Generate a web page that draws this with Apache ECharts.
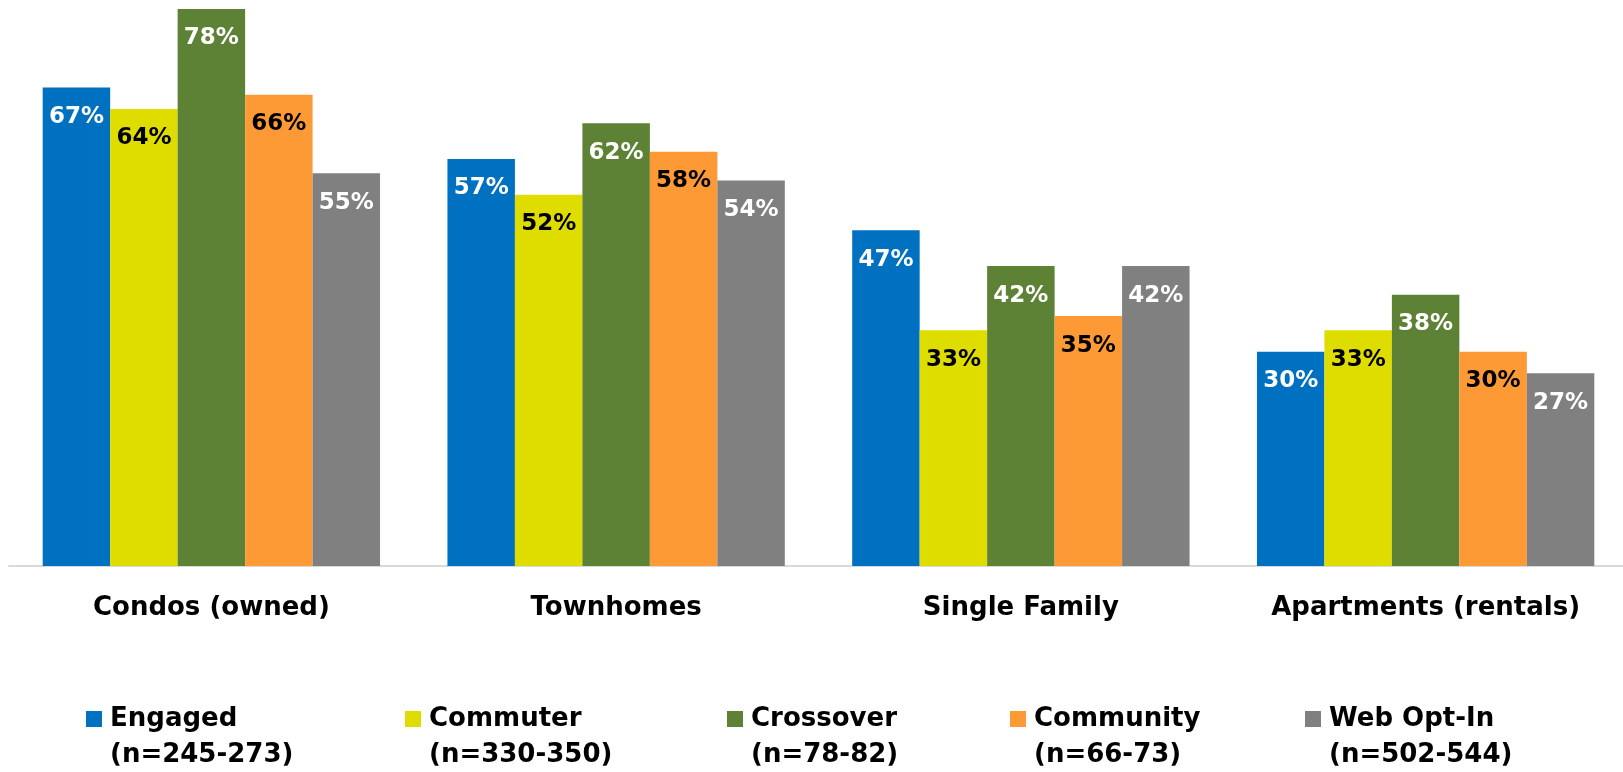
<!DOCTYPE html>
<html>
<head>
<meta charset="utf-8">
<script src="https://cdn.jsdelivr.net/npm/echarts@6/dist/echarts.min.js"></script>
<style>
  html, body { margin: 0; padding: 0; background: #ffffff; }
  #chart { width: 1623px; height: 772px; }
</style>
</head>
<body>
<div id="chart"></div>
<script>
// Housing types and the share of each segment that would consider them
const categories = ['Condos (owned)', 'Townhomes', 'Single Family', 'Apartments (rentals)'];

const segmentNames = ['Engaged', 'Commuter', 'Crossover', 'Community', 'Web Opt-In'];
const segmentSizes = ['(n=245-273)', '(n=330-350)', '(n=78-82)', '(n=66-73)', '(n=502-544)'];

const engaged   = [67, 57, 47, 30];
const commuter  = [64, 52, 33, 33];
const crossover = [78, 62, 42, 38];
const community = [66, 58, 35, 30];
const webOptIn  = [55, 54, 42, 27];

const seriesValues = [engaged, commuter, crossover, community, webOptIn];
const seriesColors = ['#0070c0', '#dfdc00', '#5d8236', '#fd9a36', '#808080'];
const labelColors  = ['#ffffff', '#000000', '#ffffff', '#000000', '#ffffff'];
const legendLeft   = [86, 405, 727, 1010, 1305];

const FONT = '"DejaVu Sans", Verdana, sans-serif';

const series = segmentNames.map((name, i) => ({
  name: name,
  type: 'bar',
  data: seriesValues[i],
  barGap: '0%',
  barCategoryGap: '16.65%',
  itemStyle: { color: seriesColors[i] },
  label: {
    show: true,
    position: 'insideTop',
    distance: 18,
    formatter: '{c}%',
    color: labelColors[i],
    fontFamily: FONT,
    fontWeight: 'bold',
    fontSize: 23
  },
  emphasis: { disabled: true }
}));

// One legend block per segment so each entry sits at its own column
const legends = segmentNames.map((name, i) => ({
  data: [name],
  left: legendLeft[i],
  top: 665,
  padding: 0,
  itemWidth: 16,
  itemHeight: 16,
  icon: 'rect',
  selectedMode: false,
  formatter: n => '\n' + n + '\n' + segmentSizes[i],
  textStyle: {
    color: '#000000',
    fontFamily: FONT,
    fontWeight: 'bold',
    fontSize: 26,
    lineHeight: 36,
    padding: [0, 0, 0, 3]
  }
}));

const chart = echarts.init(document.getElementById('chart'), null, { renderer: 'canvas' });
chart.setOption({
  animation: false,
  backgroundColor: '#ffffff',
  legend: legends,
  // the plot area runs a few pixels past the right edge of the canvas
  grid: { left: 9, width: 1619, top: 9, bottom: 206, containLabel: false, outerBoundsMode: 'none' },
  xAxis: {
    type: 'category',
    data: categories,
    axisLine: { show: true, lineStyle: { color: '#d9d9d9', width: 2 } },
    axisTick: { show: false },
    axisLabel: {
      margin: 29,
      color: '#000000',
      fontFamily: FONT,
      fontWeight: 'bold',
      fontSize: 26
    }
  },
  yAxis: {
    type: 'value',
    min: 0,
    max: 78,
    show: false,
    splitLine: { show: false }
  },
  series: series
});
</script>
</body>
</html>
